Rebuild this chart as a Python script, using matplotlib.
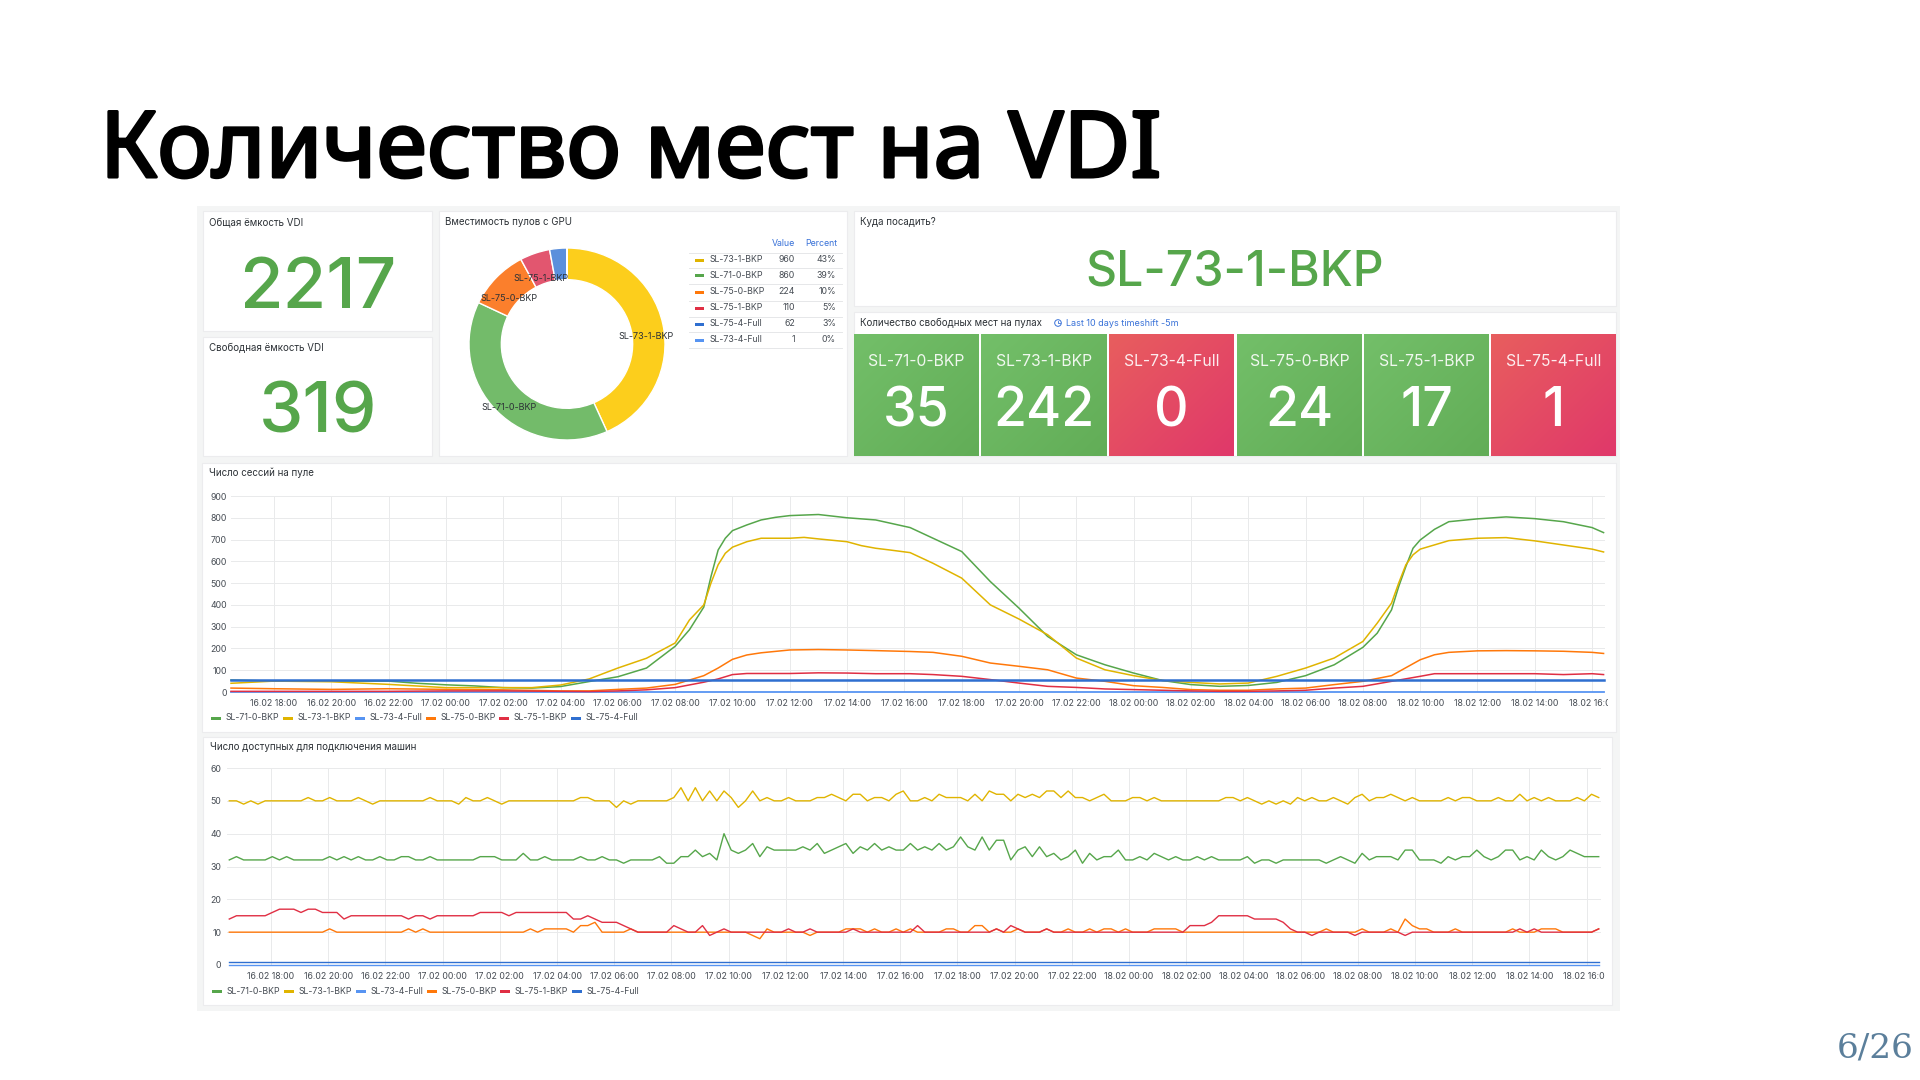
import matplotlib
matplotlib.use('Agg')
import matplotlib.pyplot as plt
import matplotlib.patches as patches
import matplotlib.patheffects as pe
import numpy as np

plt.rcParams['font.family'] = ['Inter', 'Noto Sans', 'DejaVu Sans']

# pools, in the order of the dashboard legend
pools = ['SL-71-0-BKP', 'SL-73-1-BKP', 'SL-73-4-Full', 'SL-75-0-BKP', 'SL-75-1-BKP', 'SL-75-4-Full']
pool_colors = ['#56a64b', '#e0b400', '#5794f2', '#ff780a', '#e02f44', '#2f6fd0']

total_capacity = 2217
free_capacity = 319
target_pool = 'SL-73-1-BKP'

# donut
donut_names = ['SL-73-1-BKP', 'SL-71-0-BKP', 'SL-75-0-BKP', 'SL-75-1-BKP', 'SL-75-4-Full', 'SL-73-4-Full']
donut_values = [960, 860, 224, 110, 62, 1]
donut_percent = ['43%', '39%', '10%', '5%', '3%', '0%']
donut_colors = ['#fcce1c', '#73bb6a', '#fb7f2c', '#e2566f', '#5b8fdc', '#5794f2']
legend_colors = ['#e0b400', '#56a64b', '#ff780a', '#e02f44', '#2f6fd0', '#5794f2']

# free places tiles
tile_names = pools
tile_values = [35, 242, 0, 24, 17, 1]

# sessions per pool, hours counted from 16.02 00:00
sess_t_green = [16.5, 18, 20, 22, 23, 24, 25, 26, 27, 28, 29, 30, 30.5, 31, 32, 32.5, 33, 33.25, 33.5, 33.75, 34, 34.5, 35, 35.5, 36, 37, 38, 39, 40.2, 41, 42, 43, 44, 45, 46, 47, 48, 49, 50, 51, 52, 53, 54, 55, 56, 56.5, 57, 57.25, 57.5, 57.75, 58, 58.5, 59, 60, 61, 62, 63, 64, 64.4]
sess_y_green = [55, 50, 50, 50, 40, 33, 28, 20, 18, 25, 48, 70, 90, 110, 210, 286, 390, 530, 652, 706, 741, 767, 790, 802, 810, 815, 800, 790, 755, 706, 645, 507, 385, 255, 171, 125, 87, 53, 34, 26, 30, 44, 75, 125, 205, 270, 377, 484, 576, 660, 698, 747, 782, 795, 804, 796, 782, 755, 732]
sess_t_yellow = [16.5, 18, 20, 22, 24, 26, 27, 28, 29, 30, 31, 32, 32.5, 33, 33.25, 33.5, 33.75, 34, 34.5, 35, 36, 36.5, 37, 38, 38.5, 39, 39.5, 40.2, 41, 42, 43, 44, 45, 46, 47, 48, 49, 50, 51, 52, 53, 54, 55, 56, 56.5, 57, 57.25, 57.5, 57.75, 58, 59, 60, 61, 62, 63, 64, 64.4]
sess_y_yellow = [40, 50, 47, 35, 20, 20, 20, 32, 60, 110, 155, 225, 331, 400, 500, 584, 637, 665, 690, 706, 706, 710, 703, 690, 672, 660, 652, 640, 591, 523, 400, 335, 263, 156, 102, 75, 53, 44, 37, 41, 72, 110, 156, 232, 316, 408, 500, 584, 630, 656, 695, 706, 709, 694, 675, 656, 643]
sess_t_orange = [16.5, 18, 20, 22, 24, 26, 28, 29, 30, 31, 32, 33, 33.5, 34, 34.5, 35, 36, 37, 38, 39, 40.2, 41, 42, 43, 44, 45, 46, 47, 48, 49, 50, 51, 52, 53, 54, 55, 56, 57, 58, 58.5, 59, 60, 61, 62, 63, 64, 64.4]
sess_y_orange = [18, 15, 12, 15, 12, 10, 5, 5, 12, 18, 35, 75, 110, 150, 170, 180, 193, 195, 193, 190, 186, 182, 164, 133, 118, 102, 64, 49, 29, 21, 11, 8, 8, 14, 18, 34, 49, 75, 148, 171, 182, 189, 190, 189, 187, 182, 177]
sess_t_red = [16.5, 18, 22, 24, 26, 28, 29, 30, 31, 32, 33, 33.5, 34, 34.5, 36, 37, 38, 39, 40.2, 41, 42, 43, 44, 45, 46, 47, 48, 49, 50, 51, 52, 53, 54, 55, 56, 57, 58, 58.5, 60, 62, 63, 64, 64.4]
sess_y_red = [3, 3, 3, 5, 5, 3, 2, 5, 10, 20, 45, 60, 80, 85, 85, 88, 87, 84, 84, 80, 72, 57, 41, 26, 21, 14, 11, 8, 5, 3, 3, 5, 8, 18, 26, 49, 72, 84, 84, 84, 80, 84, 80]
sess_t_flat = [16.5, 64.4]
sess_y_lightblue = [0, 0]
sess_y_darkblue = [57, 57]

# machines available for connection, one reading every 15 minutes or so
avail_yellow = [
    50, 50, 49, 50, 49, 50, 50, 50, 50, 50, 50, 51, 50, 50, 51, 50,
    50, 50, 51, 50, 49, 50, 50, 50, 50, 50, 50, 50, 51, 50, 50, 50,
    49, 51, 50, 50, 51, 50, 49, 50, 50, 50, 50, 50, 50, 50, 50, 50,
    50, 51, 51, 50, 50, 50, 48, 50, 49, 50, 50, 50, 50, 50, 51, 54,
    50, 54, 50, 53, 50, 53, 51, 48, 50, 53, 50, 51, 50, 50, 51, 50,
    50, 50, 51, 51, 52, 51, 50, 52, 52, 50, 51, 51, 50, 52, 53, 50,
    50, 51, 50, 52, 51, 51, 51, 50, 52, 50, 53, 52, 52, 50, 52, 51,
    52, 51, 53, 53, 51, 53, 51, 51, 50, 51, 52, 50, 50, 50, 51, 51,
    50, 51, 50, 50, 50, 50, 50, 50, 50, 50, 50, 51, 51, 50, 51, 50,
    49, 50, 49, 50, 49, 51, 50, 51, 50, 50, 51, 50, 49, 51, 52, 50,
    51, 51, 52, 51, 50, 51, 50, 50, 50, 50, 51, 50, 51, 51, 50, 50,
    50, 51, 50, 50, 52, 50, 51, 50, 51, 50, 50, 50, 51, 50, 52, 51,
]
avail_green = [
    32, 33, 32, 32, 32, 32, 33, 32, 33, 32, 32, 32, 32, 32, 33, 32,
    33, 32, 33, 32, 32, 33, 32, 32, 33, 33, 32, 32, 33, 32, 32, 32,
    32, 32, 32, 33, 33, 33, 32, 32, 32, 34, 32, 32, 33, 32, 32, 32,
    32, 33, 32, 32, 33, 32, 32, 31, 32, 32, 32, 32, 33, 31, 31, 33,
    33, 35, 33, 34, 32, 40, 35, 34, 35, 37, 33, 36, 35, 35, 35, 35,
    36, 35, 37, 34, 35, 36, 37, 34, 36, 35, 37, 35, 36, 35, 35, 37,
    35, 36, 35, 37, 35, 36, 39, 36, 35, 39, 35, 38, 38, 32, 35, 36,
    33, 36, 33, 34, 32, 33, 35, 31, 34, 32, 33, 33, 35, 32, 32, 33,
    32, 34, 33, 32, 33, 32, 32, 33, 32, 33, 32, 32, 32, 32, 33, 31,
    32, 32, 31, 32, 32, 32, 32, 32, 32, 31, 32, 33, 32, 31, 34, 32,
    33, 33, 33, 32, 35, 35, 32, 32, 32, 31, 33, 32, 33, 33, 35, 33,
    32, 33, 35, 35, 32, 33, 32, 35, 33, 32, 33, 35, 34, 33, 33, 33,
]
avail_orange = [
    10, 10, 10, 10, 10, 10, 10, 10, 10, 10, 10, 10, 10, 10, 11, 10,
    10, 10, 10, 10, 10, 10, 10, 10, 10, 11, 10, 11, 10, 10, 10, 10,
    10, 10, 10, 10, 10, 10, 10, 10, 10, 10, 11, 10, 11, 11, 11, 11,
    10, 12, 12, 13, 10, 10, 10, 10, 11, 10, 10, 10, 10, 10, 10, 10,
    10, 10, 10, 10, 10, 10, 10, 10, 10, 9, 8, 11, 10, 10, 10, 10,
    10, 9, 10, 10, 10, 10, 11, 11, 11, 10, 11, 10, 10, 11, 10, 11,
    10, 10, 10, 10, 11, 11, 10, 10, 12, 12, 10, 11, 10, 10, 11, 10,
    10, 10, 11, 10, 10, 11, 10, 10, 11, 10, 11, 11, 10, 11, 10, 10,
    10, 11, 11, 11, 11, 10, 10, 10, 10, 10, 10, 10, 10, 10, 10, 10,
    10, 10, 10, 10, 10, 10, 10, 10, 10, 11, 10, 10, 10, 10, 11, 10,
    10, 10, 11, 10, 14, 12, 11, 11, 10, 10, 10, 11, 10, 10, 10, 10,
    10, 10, 10, 11, 10, 10, 10, 11, 11, 11, 10, 10, 10, 10, 10, 11,
]
avail_red = [
    14, 15, 15, 15, 15, 15, 16, 17, 17, 17, 16, 17, 17, 16, 16, 16,
    14, 15, 15, 15, 15, 15, 15, 15, 15, 14, 15, 15, 14, 15, 15, 15,
    15, 15, 15, 16, 16, 16, 16, 15, 16, 16, 16, 16, 16, 16, 16, 16,
    14, 14, 15, 14, 13, 13, 13, 12, 11, 10, 10, 10, 10, 10, 12, 11,
    10, 10, 12, 9, 10, 11, 10, 10, 10, 10, 10, 10, 10, 10, 11, 10,
    10, 11, 10, 10, 10, 10, 10, 11, 10, 10, 10, 10, 10, 10, 10, 10,
    12, 10, 10, 10, 10, 10, 10, 10, 10, 10, 10, 11, 10, 12, 11, 10,
    10, 10, 11, 10, 10, 10, 10, 10, 10, 10, 10, 10, 10, 10, 10, 10,
    10, 10, 10, 10, 10, 10, 12, 12, 12, 13, 15, 15, 15, 15, 15, 14,
    14, 14, 14, 13, 11, 10, 10, 9, 10, 10, 10, 10, 10, 9, 10, 10,
    10, 10, 10, 10, 9, 10, 10, 10, 10, 10, 10, 10, 10, 10, 10, 10,
    10, 10, 10, 10, 11, 10, 11, 10, 10, 10, 10, 10, 10, 10, 10, 11,
]
avail_lightblue = [0] * 192
avail_darkblue = [1] * 192

day_hours = [18, 20, 22, 24, 26, 28, 30, 32, 34, 36, 38, 40, 42, 44, 46, 48, 50, 52, 54, 56, 58, 60, 62, 64]
day_labels = ['16.02 18:00', '16.02 20:00', '16.02 22:00', '17.02 00:00', '17.02 02:00', '17.02 04:00',
              '17.02 06:00', '17.02 08:00', '17.02 10:00', '17.02 12:00', '17.02 14:00', '17.02 16:00',
              '17.02 18:00', '17.02 20:00', '17.02 22:00', '18.02 00:00', '18.02 02:00', '18.02 04:00',
              '18.02 06:00', '18.02 08:00', '18.02 10:00', '18.02 12:00', '18.02 14:00', '18.02 16:00']

W, H = 1920, 1080
TEXT = '#464c54'
GRID = '#e9eaeb'

fig = plt.figure(figsize=(W / 100, H / 100), dpi=100, facecolor='white')
bg = fig.add_axes([0, 0, 1, 1])
bg.set_xlim(0, W)
bg.set_ylim(H, 0)
bg.axis('off')


def panel(x0, y0, x1, y1):
    bg.add_patch(patches.Rectangle((x0, y0), x1 - x0, y1 - y0, facecolor='white', edgecolor='#ececee', linewidth=0.8))


def px_axes(x0, y0, x1, y1):
    ax = fig.add_axes([x0 / W, 1 - y1 / H, (x1 - x0) / W, (y1 - y0) / H])
    ax.patch.set_alpha(0)
    return ax


def label(x, y, s, size=7, color='#2c3136', **kw):
    kw.setdefault('va', 'center')
    return bg.text(x, y, s, fontsize=size, color=color, **kw)


def gradient(x0, y0, x1, y1, c0, c1):
    xx, yy = np.meshgrid(np.linspace(0, 1, 60), np.linspace(0, 1, 60))
    m = ((xx + yy) / 2)[..., None]
    img = np.array(matplotlib.colors.to_rgb(c0)) * (1 - m) + np.array(matplotlib.colors.to_rgb(c1)) * m
    bg.imshow(img, extent=(x0, x1, y1, y0), aspect='auto', zorder=2, interpolation='bilinear')


def timeseries(x0, y0, x1, y1, t_list, y_list, lw_list, ymax, step, xlim, ypad, clip_x):
    ax = px_axes(x0, y0, x1, y1)
    for t, y, c, lw in zip(t_list, y_list, pool_colors, lw_list):
        ax.plot(t, y, color=c, linewidth=lw, solid_joinstyle='round', clip_on=False)
    ax.set_xlim(*xlim)
    ax.set_ylim(0, ymax)
    ax.set_xticks(day_hours)
    ax.set_xticklabels(day_labels)
    ax.set_yticks(np.arange(0, ymax + 1, step))
    ax.grid(True, color=GRID, linewidth=0.7)
    ax.set_axisbelow(True)
    ax.tick_params(length=0, labelsize=6.3, labelcolor=TEXT, pad=5)
    ax.tick_params(axis='y', pad=ypad)
    for sp in ax.spines.values():
        sp.set_visible(False)
    # the last time label is cut by the panel in the dashboard
    clip = patches.Rectangle((0, 0), clip_x, H, transform=bg.transData)
    for tl in ax.get_xticklabels():
        tl.set_clip_path(clip)
        tl.set_clip_on(True)
    return ax


def series_legend(x, y):
    gaps = [0, 72, 144, 215, 288, 360]
    for name, c, g in zip(pools, pool_colors, gaps):
        bg.add_patch(patches.Rectangle((x + g, y - 1.5), 10, 3, facecolor=c, edgecolor='none', zorder=3))
        label(x + g + 15, y, name, size=6.3, color=TEXT)


# page, the only Noto Sans here is regular so the heavier title gets a stroke
title = label(100, 177, 'Количество мест на VDI', size=66, color='#000000', family=['Noto Sans', 'DejaVu Sans'], va='baseline')
title.set_path_effects([pe.withStroke(linewidth=2.2, foreground='#000000')])
label(1914, 1048, '6/26', size=24.7, color='#5b7f9b', ha='right', family=['DejaVu Serif'])

# dashboard background
bg.add_patch(patches.Rectangle((197, 206), 1423, 805, facecolor='#f4f5f5', edgecolor='none'))

# single stat panels
panel(203, 211, 432, 331)
label(209, 222, 'Общая ёмкость VDI')
label(318, 289, str(total_capacity), size=51, color='#56a64b', ha='center', fontweight='medium')
panel(203, 337, 432, 456)
label(209, 348, 'Свободная ёмкость VDI')
label(318, 414, str(free_capacity), size=51, color='#56a64b', ha='center', fontweight='medium')

# donut
panel(439, 211, 847, 456)
label(445, 222, 'Вместимость пулов с GPU')
donut_ax = px_axes(469, 248, 665, 440)
donut_labels = [n if v > 100 else '' for n, v in zip(donut_names, donut_values)]
_, donut_texts = donut_ax.pie(donut_values, colors=donut_colors, labels=donut_labels, startangle=90, counterclock=False,
                              radius=1.0, labeldistance=0.82, rotatelabels=False,
                              wedgeprops=dict(width=0.33, edgecolor='white', linewidth=1),
                              textprops=dict(fontsize=6.5, color='#2c3136', ha='center', va='center'))
for txt in donut_texts:
    tx, ty = txt.get_position()
    txt.set_position((tx, ty - 0.09))
donut_ax.set_xlim(-1, 1)
donut_ax.set_ylim(-1, 1)
donut_ax.set_aspect('auto')

# donut legend table
row_y = [260, 275, 292, 308, 324, 340]
line_y = [253, 268, 284, 301, 317, 332, 348]
label(795, 244, 'Value', size=6.3, color='#3871d8', ha='right')
label(837, 244, 'Percent', size=6.3, color='#3871d8', ha='right')
for yy in line_y:
    bg.plot([689, 842], [yy, yy], color='#e6e7e9', linewidth=0.7)
for y, name, val, pct, c in zip(row_y, donut_names, donut_values, donut_percent, legend_colors):
    bg.add_patch(patches.Rectangle((695, y - 1.5), 9, 3, facecolor=c, edgecolor='none'))
    label(710, y, name, size=6.3, color=TEXT)
    label(795, y, str(val), size=6.3, color=TEXT, ha='right')
    label(836, y, pct, size=6.3, color=TEXT, ha='right')

# target pool
panel(854, 211, 1616, 306)
label(860, 222, 'Куда посадить?')
label(1235, 273, target_pool, size=34.7, color='#56a64b', ha='center', fontweight='medium')

# free places
panel(854, 312, 1616, 456)
label(860, 323, 'Количество свободных мест на пулах')
# clock icon, no installed font has it
bg.add_patch(patches.Circle((1058, 323), 3.3, facecolor='none', edgecolor='#3871d8', linewidth=0.7))
bg.plot([1058, 1058, 1060], [320.8, 323, 323], color='#3871d8', linewidth=0.6)
label(1066, 323, 'Last 10 days timeshift -5m', size=6.5, color='#3871d8')
tile_x = [(854, 979), (981, 1107), (1109, 1234), (1237, 1362), (1364, 1489), (1491, 1616)]
for (x0, x1), name, val in zip(tile_x, tile_names, tile_values):
    if val > 1:
        gradient(x0, 334, x1, 456, '#73bf69', '#62ad57')
    else:
        gradient(x0, 334, x1, 456, '#e85e5e', '#e0386a')
    xc = (x0 + x1) / 2
    bg.text(xc, 362, name, fontsize=11.3, color='white', ha='center', va='center', alpha=0.9, zorder=3)
    bg.text(xc, 412, str(val), fontsize=38.6, color='white', ha='center', va='center', fontweight='medium', zorder=3)
bg.set_xlim(0, W)
bg.set_ylim(H, 0)

# sessions chart
panel(202, 463, 1616, 732)
label(209, 473, 'Число сессий на пуле')
s_t = [sess_t_green, sess_t_yellow, sess_t_flat, sess_t_orange, sess_t_red, sess_t_flat]
s_y = [sess_y_green, sess_y_yellow, sess_y_lightblue, sess_y_orange, sess_y_red, sess_y_darkblue]
timeseries(231, 496, 1605, 692, s_t, s_y, [1.1, 1.1, 1.3, 1.1, 1.1, 1.8], 900, 100, (16.5, 64.45), 3, 1608)
series_legend(211, 718)

# availability chart
panel(203, 737, 1612, 1005)
label(210, 747, 'Число доступных для подключения машин')
avail_t = np.linspace(16.54, 64.42, len(avail_green))
a_y = [avail_green, avail_yellow, avail_lightblue, avail_orange, avail_red, avail_darkblue]
timeseries(227, 768, 1601, 965, [avail_t] * 6, a_y, [1.0, 1.0, 1.0, 1.0, 1.0, 1.0], 60, 10, (16.46, 64.5), 4, 1605)
series_legend(212, 991)

fig.savefig('out.png', dpi=100, facecolor='white')
